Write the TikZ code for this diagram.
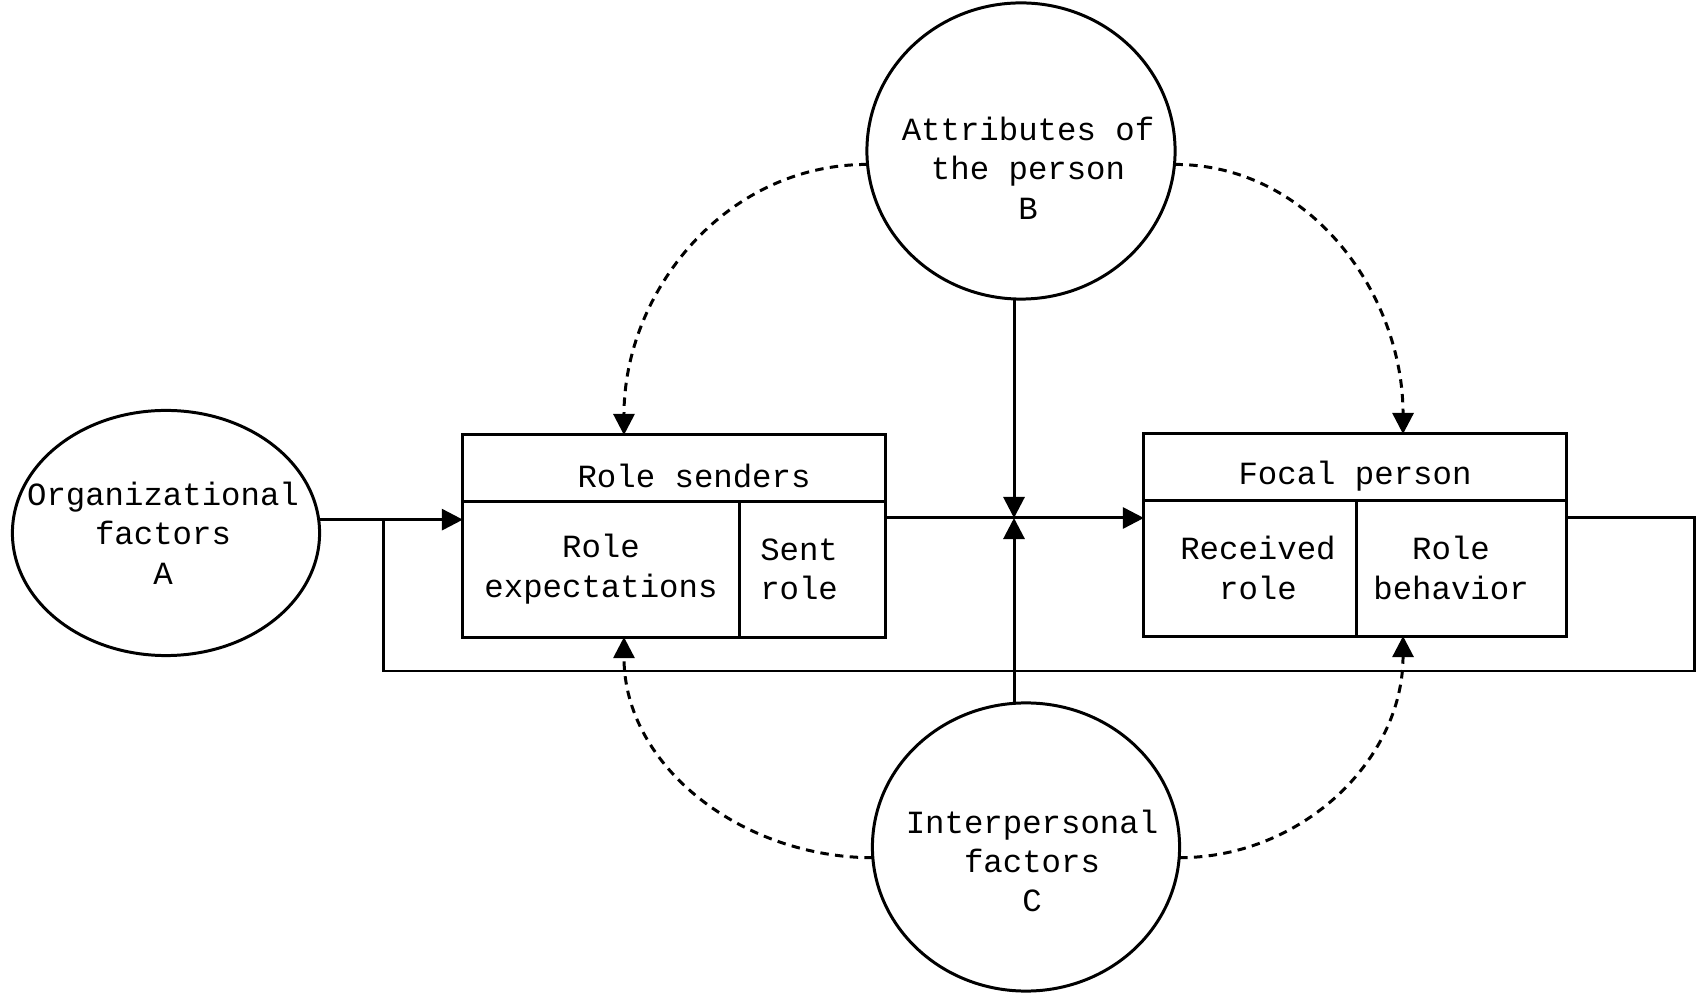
\documentclass[tikz,border=0pt]{standalone}
\usepackage{fontspec}
\setmonofont{Liberation Mono}
\usetikzlibrary{shapes.geometric,positioning,arrows.meta}

\begin{document}
\begin{tikzpicture}[x=0.01cm, y=-0.01cm, line width=0.85pt,
  every node/.style={font=\ttfamily\fontsize{9.2}{11.2}\selectfont, align=center, inner sep=0pt, outer sep=0pt},
  factor/.style={ellipse, draw, minimum width=3.07cm, minimum height=2.45cm},
  head/.style={rectangle, draw, minimum height=0.66cm},
  cell/.style={rectangle, draw, minimum height=1.36cm},
  flow/.style={-{Triangle[length=6pt,width=6pt]}},
  infl/.style={dash pattern=on 2.4pt off 1.8pt, -{Triangle[length=6pt,width=6pt]}}]
  \useasboundingbox (0,0) rectangle (1697,995);

  \node[factor, label={[xshift=-0.03cm]center:Organizational\\factors\\A}] (A) at (166,533) {};
  \node[factor, minimum width=3.08cm, minimum height=2.96cm,
    label={[xshift=0.07cm, yshift=-0.17cm]center:Attributes of\\the person\\B}] (B) at (1021,151) {};
  \node[factor, minimum height=2.88cm,
    label={[xshift=0.06cm, yshift=-0.14cm]center:Interpersonal\\factors\\C}] (C) at (1026,847) {};

  \node[head, minimum width=4.22cm, label={[xshift=0.2cm, yshift=-0.08cm]center:Role senders}] (rs) at (674,468) {};
  \node[cell, minimum width=2.76cm, anchor=north west] (re) at (rs.south west) {Role\\expectations};
  \node[cell, minimum width=1.46cm, anchor=north east,
    label={[xshift=-0.13cm]center:Sent\\role}] (sr) at (rs.south east) {};

  \node[head, minimum width=4.22cm, label={[yshift=-0.09cm]center:Focal person}] (fp) at (1355,467) {};
  \node[cell, minimum width=2.12cm, anchor=north west,
    label={[xshift=0.08cm]center:Received\\role}] (rr) at (fp.south west) {};
  \node[cell, minimum width=2.10cm, anchor=north east,
    label={[xshift=-0.1cm]center:Role\\behavior}] (rb) at (fp.south east) {};

  \coordinate (junc) at (1014,518);
  \coordinate (split) at (383,519);
  \coordinate (loop) at (1694,671);

  % solid flow
  \draw[flow] (A.5) -- (A.5 -| re.west);
  \draw (sr.east |- junc) -- (junc);
  \draw[flow] (junc) -- (junc -| rr.west);
  \draw[flow] (B.south -| junc) -- (junc);
  \draw[flow] (C.north -| junc) -- (junc);
  \draw (rb.east |- junc) -| (loop) -| (split);

  % dashed influences
  \draw[infl] (B.185) to[out=180, in=90] ([xshift=1.61cm]rs.north west);
  \draw[infl] (B.355) to[out=0, in=90] ([xshift=2.59cm]fp.north west);
  \draw[infl] (C.184) to[out=180, in=-90] ([xshift=1.61cm]re.south west);
  \draw[infl] (C.356) to[out=0, in=-90] ([xshift=2.59cm]rr.south west);
\end{tikzpicture}
\end{document}
